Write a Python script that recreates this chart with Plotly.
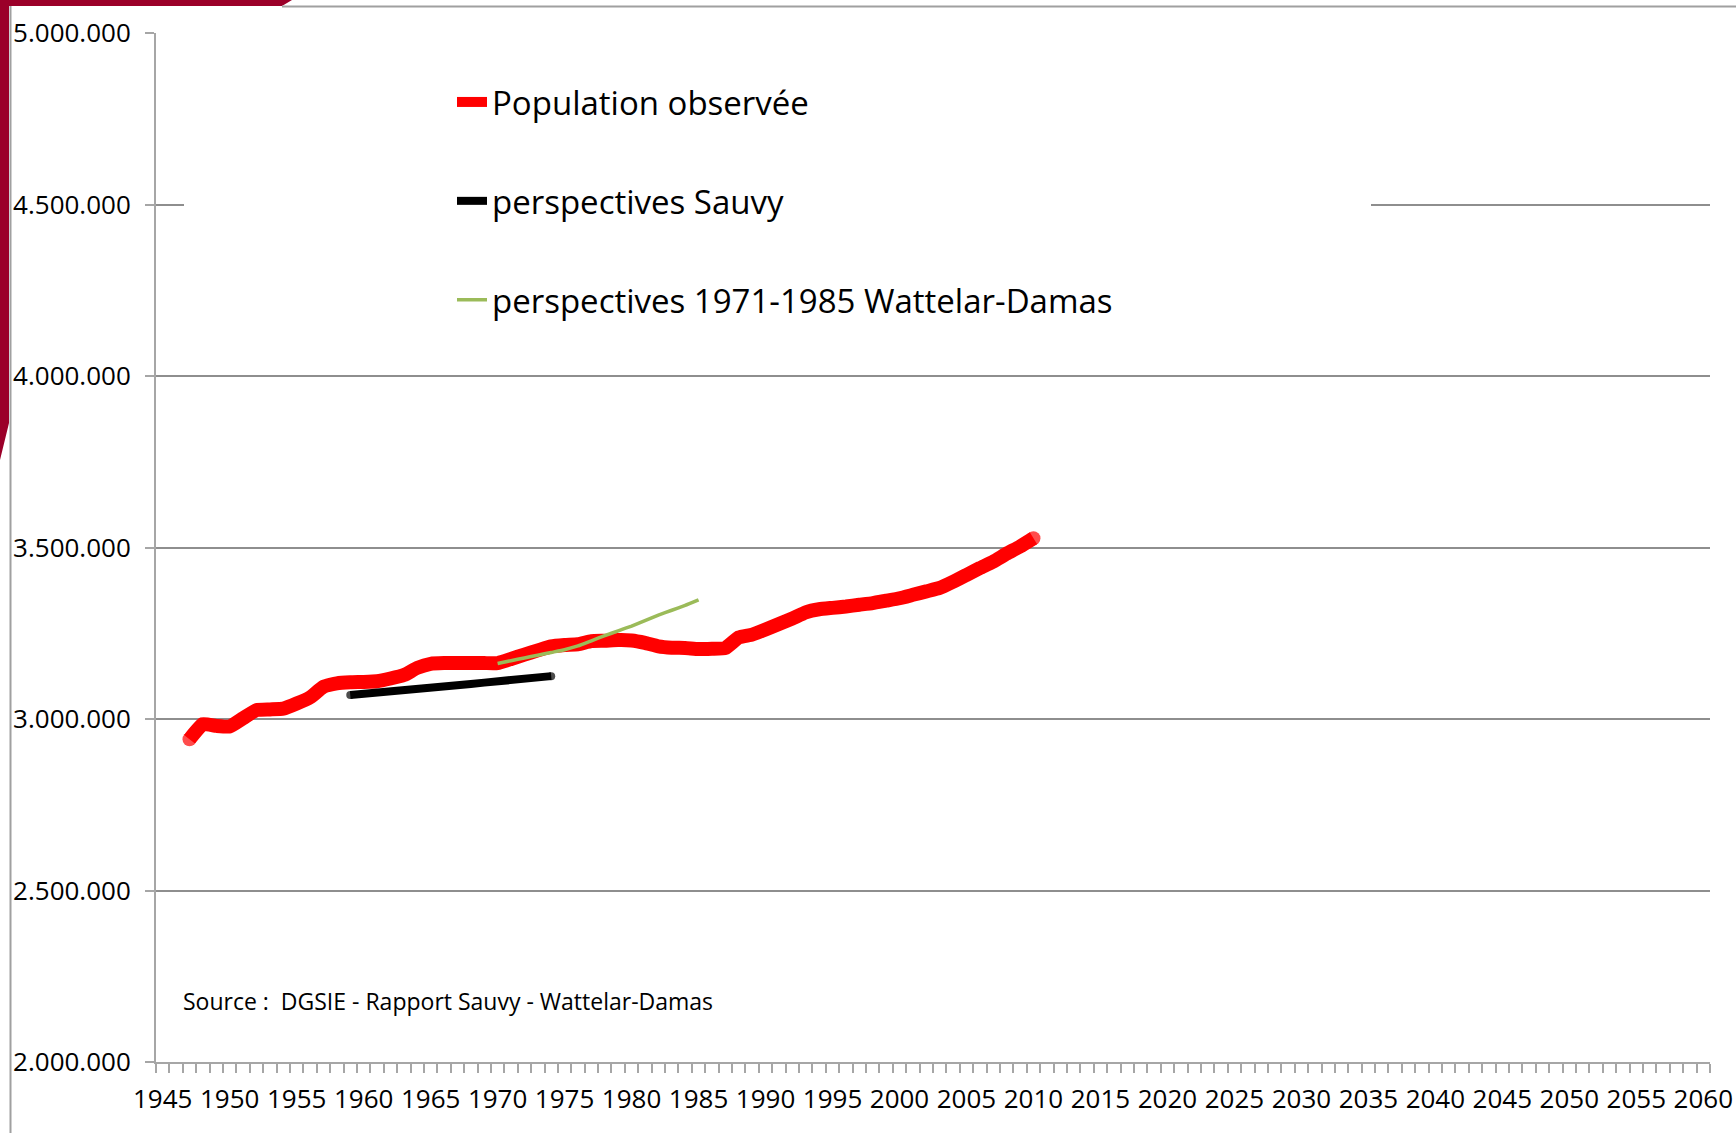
import plotly.graph_objects as go

# ---------------- data ----------------
obs_years = list(range(1947, 2011))
obs_values = [
    2941000, 2985000, 2980000, 2978000, 3002000, 3026000, 3028000, 3030000, 3045000, 3063000,
    3094000, 3104000, 3107000, 3108000, 3110000, 3118000, 3128000, 3149000, 3161000, 3163000,
    3163000, 3163000, 3163000, 3163000, 3175000, 3188000, 3200000, 3212000, 3216000, 3218000,
    3227000, 3228000, 3230000, 3229000, 3222000, 3212000, 3208000, 3207000, 3204000, 3205000,
    3207000, 3238000, 3246000, 3261000, 3277000, 3293000, 3311000, 3320000, 3324000, 3328000,
    3333000, 3338000, 3345000, 3352000, 3362000, 3372000, 3382000, 3400000, 3420000, 3440000,
    3459000, 3482000, 3503000, 3527000,
]

sauvy_years = list(range(1959, 1975))
sauvy_values = [
    3070000, 3073000, 3076000, 3080000, 3084000, 3088000, 3092000, 3095000,
    3099000, 3102000, 3106000, 3110000, 3114000, 3117000, 3121000, 3125000,
]

wd_years = list(range(1970, 1986))
wd_values = [
    3162000, 3170000, 3178000, 3186000, 3194000, 3202000, 3213000, 3228000,
    3243000, 3257000, 3271000, 3287000, 3303000, 3317000, 3331000, 3347000,
]

x_tick_years = list(range(1945, 2061, 5))
y_tick_values = [2000000, 2500000, 3000000, 3500000, 4000000, 4500000, 5000000]

names = ["Population observée", "perspectives Sauvy", "perspectives 1971-1985 Wattelar-Damas"]
source_text = "Source :  DGSIE - Rapport Sauvy - Wattelar-Damas"

# ---------------- layout constants (pixels) ----------------
W, H = 1736, 1133
ML, MR, MT, MB = 156, 26, 33, 71
PW, PH = W - ML - MR, H - MT - MB


def px_x(px):
    return (px - ML) / PW


def px_y(py):
    return 1 - (py - MT) / PH


FONT = "Open Sans"
GRID = "#8e8e8e"
AXIS = "#a6a6a6"


def end_caps(n, size):
    return [size if i in (0, n - 1) else 0 for i in range(n)]


fig = go.Figure()
fig.add_trace(go.Scatter(
    x=obs_years, y=obs_values, name=names[0], mode="lines+markers",
    line=dict(color="#ff0000", width=14, shape="spline", smoothing=0.4),
    marker=dict(size=end_caps(len(obs_years), 14), color="#ff0000", line=dict(width=0)),
    legendgroup="a",
))
fig.add_trace(go.Scatter(
    x=sauvy_years, y=sauvy_values, name=names[1], mode="lines+markers",
    line=dict(color="#000000", width=8),
    marker=dict(size=end_caps(len(sauvy_years), 8), color="#000000", line=dict(width=0)),
    legendgroup="b",
))
fig.add_trace(go.Scatter(
    x=wd_years, y=wd_values, name=names[2], mode="lines",
    line=dict(color="#9bbb59", width=3.5, shape="spline", smoothing=0.4),
    legendgroup="c",
))

shapes = [
    # white legend background hiding the gridline behind the legend
    dict(type="rect", xref="paper", yref="paper", layer="above",
         x0=px_x(184), x1=px_x(1371), y0=px_y(345), y1=px_y(48),
         fillcolor="white", line=dict(width=0)),
    # slide frame decoration (dark red corner and gray border)
    dict(type="path", xref="paper", yref="paper", layer="above",
         path=(f"M {px_x(0)},{px_y(0)} L {px_x(292)},{px_y(0)} L {px_x(282)},{px_y(6)} "
               f"L {px_x(9)},{px_y(6)} L {px_x(9)},{px_y(423)} L {px_x(0)},{px_y(460)} Z"),
         fillcolor="#9b0029", line=dict(width=0)),
    dict(type="line", xref="paper", yref="paper", layer="above",
         x0=px_x(10.5), x1=px_x(10.5), y0=px_y(6), y1=px_y(H),
         line=dict(color="#a0a0a0", width=2)),
    dict(type="line", xref="paper", yref="paper", layer="above",
         x0=px_x(282), x1=px_x(W), y0=px_y(6.5), y1=px_y(6.5),
         line=dict(color="#a0a0a0", width=2)),
]

fig.update_layout(
    width=W, height=H, autosize=False,
    margin=dict(l=ML, r=MR, t=MT, b=MB, pad=0, autoexpand=False),
    paper_bgcolor="white", plot_bgcolor="white",
    separators=",.",
    font=dict(family=FONT, size=25, color="#000000"),
    showlegend=True,
    legend=dict(
        x=px_x(452), xanchor="left", y=px_y(74), yanchor="top",
        bgcolor="rgba(0,0,0,0)", borderwidth=0,
        font=dict(family=FONT, size=33, color="#000000"),
        tracegroupgap=53, itemwidth=30,
    ),
    shapes=shapes,
    annotations=[dict(
        text=source_text, xref="paper", yref="paper",
        x=px_x(181), y=px_y(1001), xanchor="left", yanchor="middle",
        showarrow=False, font=dict(family=FONT, size=23, color="#000000"),
    )],
)

fig.update_xaxes(
    range=[1944.5, 2060.5], tickmode="array", tickvals=x_tick_years,
    ticktext=[str(v) for v in x_tick_years], ticks="",
    showgrid=False, zeroline=False, automargin=False,
    showline=True, linecolor=AXIS, linewidth=2,
    minor=dict(tick0=1944.5, dtick=1, ticks="outside", ticklen=9,
               tickcolor=AXIS, tickwidth=1.5, showgrid=False),
    tickfont=dict(family=FONT, size=26, color="#000000"),
    ticklabelstandoff=13,
)
fig.update_yaxes(
    range=[2000000, 5000000], tickmode="array", tickvals=y_tick_values,
    tickformat=",.0f", ticks="outside", ticklen=9, tickcolor=AXIS, tickwidth=1.5,
    showgrid=True, gridcolor=GRID, gridwidth=1.5, zeroline=False, automargin=False,
    showline=True, linecolor=AXIS, linewidth=2,
    tickfont=dict(family=FONT, size=26, color="#000000"),
    ticklabelstandoff=9,
)

fig.write_html("out.html", config={"displayModeBar": False},
               post_script="document.body.style.margin='0px';")
